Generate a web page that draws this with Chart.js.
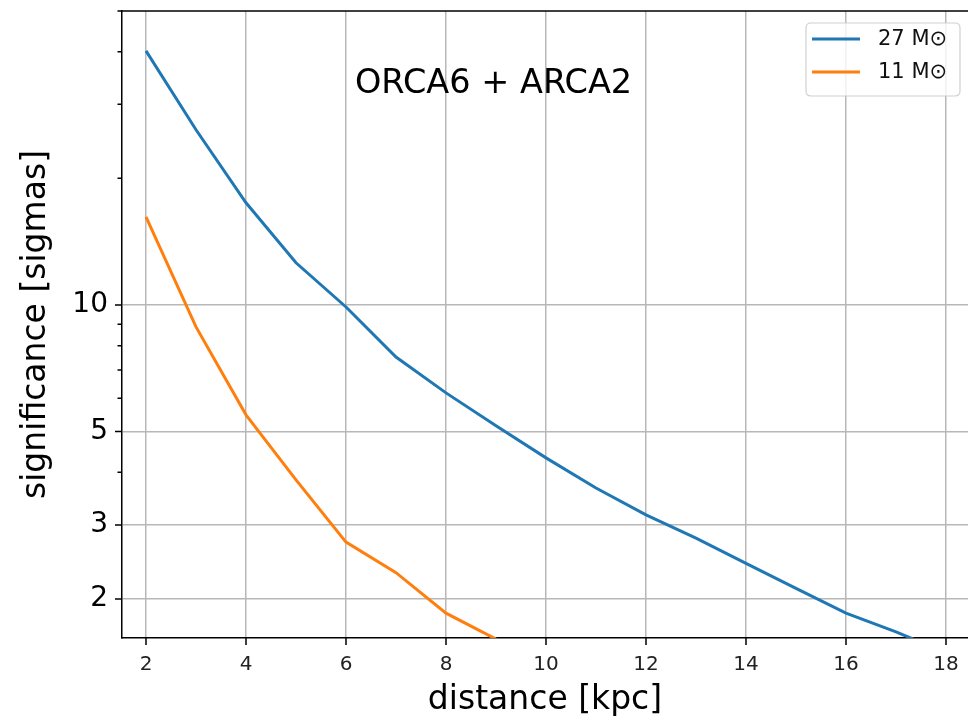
<!DOCTYPE html>
<html>
<head>
<meta charset="utf-8">
<script src="https://cdn.jsdelivr.net/npm/chart.js@4.4.1/dist/chart.umd.min.js"></script>
<style>
  html, body { margin: 0; padding: 0; background: #fff; }
  #wrap { width: 968px; height: 717px; position: relative; }
</style>
</head>
<body>
<div id="wrap"><canvas id="c" width="968" height="717"></canvas></div>
<script>
// ---- data ----
const distance27 = [2, 3, 4, 5, 6, 7, 8, 9, 10, 11, 12, 13, 14, 15, 16, 17, 18];
const significance27 = [40.2, 26.1, 17.5, 12.6, 9.89, 7.52, 6.18, 5.16, 4.33, 3.67, 3.17, 2.79, 2.43, 2.12, 1.85, 1.67, 1.49];
const distance11 = [2, 3, 4, 5, 6, 7, 8, 9];
const significance11 = [16.2, 8.87, 5.48, 3.84, 2.73, 2.31, 1.85, 1.605];
const seriesLabels = ['27 M\u2299', '11 M\u2299'];
const seriesColors = ['#1f77b4', '#ff7f0e'];
const xTickValues = [2, 4, 6, 8, 10, 12, 14, 16, 18];
const yMajorTicks = [2, 3, 5, 10];
const yMinorTicks = [4, 6, 7, 8, 9, 20, 30, 40, 50];
const plotTitle = 'ORCA6 + ARCA2';
const xTitle = 'distance [kpc]';
const yTitle = 'significance [sigmas]';

const FONT = "'DejaVu Sans', sans-serif";

function toPoints(xs, ys) { return xs.map((x, i) => ({ x: x, y: ys[i] })); }

const decorPlugin = {
  id: 'decor',
  afterDraw(chart) {
    const ctx = chart.ctx;
    const a = chart.chartArea;
    const xs = chart.scales.x, ys = chart.scales.y;
    ctx.save();
    // top spine
    ctx.strokeStyle = '#000';
    ctx.lineWidth = 1.5;
    ctx.beginPath();
    ctx.moveTo(a.left - 0.75, a.top);
    ctx.lineTo(a.right, a.top);
    ctx.stroke();
    // tick marks
    ctx.beginPath();
    xTickValues.forEach(v => {
      const p = xs.getPixelForValue(v);
      ctx.moveTo(p, a.bottom);
      ctx.lineTo(p, a.bottom + 7);
    });
    yMajorTicks.forEach(v => {
      const p = ys.getPixelForValue(v);
      ctx.moveTo(a.left, p);
      ctx.lineTo(a.left - 7, p);
    });
    yMinorTicks.forEach(v => {
      const p = ys.getPixelForValue(v);
      if (p < a.top - 1 || p > a.bottom + 1) return;
      ctx.moveTo(a.left, p);
      ctx.lineTo(a.left - 4.5, p);
    });
    ctx.stroke();
    // in-plot title
    ctx.fillStyle = '#000';
    ctx.font = '33.5px ' + FONT;
    ctx.textAlign = 'left';
    ctx.textBaseline = 'alphabetic';
    ctx.fillText(plotTitle, xs.getPixelForValue(6.18), ys.getPixelForValue(32.0));
    // legend
    const bw = 154, bh = 73;
    const bx = a.right - 8 - bw, by = a.top + 12;
    const r = 5;
    ctx.beginPath();
    ctx.moveTo(bx + r, by);
    ctx.lineTo(bx + bw - r, by);
    ctx.quadraticCurveTo(bx + bw, by, bx + bw, by + r);
    ctx.lineTo(bx + bw, by + bh - r);
    ctx.quadraticCurveTo(bx + bw, by + bh, bx + bw - r, by + bh);
    ctx.lineTo(bx + r, by + bh);
    ctx.quadraticCurveTo(bx, by + bh, bx, by + bh - r);
    ctx.lineTo(bx, by + r);
    ctx.quadraticCurveTo(bx, by, bx + r, by);
    ctx.closePath();
    ctx.fillStyle = 'rgba(255,255,255,0.8)';
    ctx.fill();
    ctx.strokeStyle = '#d0d0d0';
    ctx.lineWidth = 1.2;
    ctx.stroke();
    chart.data.datasets.forEach((ds, i) => {
      const yy = by + 16 + i * 33;
      ctx.strokeStyle = ds.borderColor;
      ctx.lineWidth = 3;
      ctx.beginPath();
      ctx.moveTo(bx + 6, yy);
      ctx.lineTo(bx + 54, yy);
      ctx.stroke();
      ctx.fillStyle = '#111';
      ctx.font = '21px ' + FONT;
      ctx.textBaseline = 'middle';
      ctx.fillText(ds.label, bx + 72, yy + 1);
    });
    ctx.restore();
  }
};

new Chart(document.getElementById('c'), {
  type: 'line',
  data: {
    datasets: [
      { label: seriesLabels[0], data: toPoints(distance27, significance27), borderColor: seriesColors[0], backgroundColor: seriesColors[0], borderWidth: 3, pointRadius: 0, tension: 0, fill: false },
      { label: seriesLabels[1], data: toPoints(distance11, significance11), borderColor: seriesColors[1], backgroundColor: seriesColors[1], borderWidth: 3, pointRadius: 0, tension: 0, fill: false }
    ]
  },
  options: {
    responsive: false,
    animation: false,
    devicePixelRatio: 1,
    layout: { padding: { left: 0, top: 11, right: 0, bottom: 0 } },
    plugins: { legend: { display: false }, tooltip: { enabled: false }, title: { display: false } },
    scales: {
      x: {
        type: 'linear',
        min: 1.52,
        max: 18.44,
        afterBuildTicks(scale) { scale.ticks = xTickValues.map(v => ({ value: v })); },
        afterFit(scale) { scale.height = 79; scale.paddingLeft = 0; scale.paddingRight = 0; },
        grid: { color: '#b8b8b8', lineWidth: 1.5, drawTicks: false },
        border: { color: '#000', width: 1.5 },
        ticks: { autoSkip: false, maxRotation: 0, padding: 15, color: '#222', font: { family: FONT, size: 20 }, callback: v => String(v) },
        title: { display: true, text: xTitle, color: '#000', font: { family: FONT, size: 33, lineHeight: 1 }, padding: { top: 0, bottom: 0 } }
      },
      y: {
        type: 'logarithmic',
        min: 1.615,
        max: 50,
        afterBuildTicks(scale) {
          scale.ticks = yMajorTicks.concat(yMinorTicks).sort((p, q) => p - q).map(v => ({ value: v, major: yMajorTicks.includes(v) }));
        },
        afterFit(scale) { scale.width = 122; scale.paddingTop = 0; scale.paddingBottom = 0; },
        grid: {
          drawTicks: false,
          lineWidth: 1.5,
          color: c => (c.tick && yMajorTicks.includes(c.tick.value)) ? '#b8b8b8' : 'rgba(0,0,0,0)'
        },
        border: { color: '#000', width: 1.5 },
        ticks: {
          autoSkip: false, padding: 14, color: '#000', font: { family: FONT, size: 28 },
          callback: v => yMajorTicks.includes(v) ? String(v) : ''
        },
        title: { display: true, text: yTitle, color: '#000', font: { family: FONT, size: 33, lineHeight: 1 }, padding: { top: 20, bottom: 0 } }
      }
    }
  },
  plugins: [decorPlugin]
});
</script>
</body>
</html>
